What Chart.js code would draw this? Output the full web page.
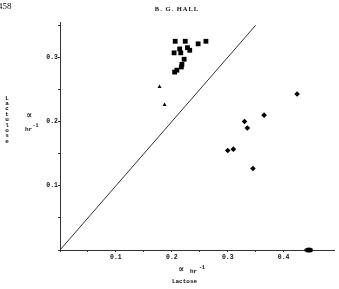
<!DOCTYPE html>
<html>
<head>
<meta charset="utf-8">
<script src="https://cdn.jsdelivr.net/npm/chart.js@4/dist/chart.umd.min.js"></script>
<style>
  html, body { margin: 0; padding: 0; background: #fff; }
  #wrap { width: 339px; height: 289px; position: relative; }
</style>
</head>
<body>
<div id="wrap"><canvas id="chart"></canvas></div>
<script>
// alpha (hr^-1) on lactose (x) vs lactulose (y)
const squareLactose   = [0.206, 0.224, 0.247, 0.261, 0.204, 0.214, 0.216, 0.228, 0.232, 0.222, 0.218, 0.217, 0.209, 0.205];
const squareLactulose = [0.325, 0.325, 0.321, 0.325, 0.307, 0.313, 0.307, 0.315, 0.311, 0.297, 0.289, 0.285, 0.280, 0.277];

const triangleLactose   = [0.178, 0.187];
const triangleLactulose = [0.254, 0.226];

const diamondLactose   = [0.330, 0.335, 0.365, 0.300, 0.310, 0.345, 0.424];
const diamondLactulose = [0.200, 0.190, 0.210, 0.155, 0.157, 0.127, 0.243];

const ovalLactose   = [0.445];
const ovalLactulose = [0.0];

const lineLactose   = [0, 0.35];
const lineLactulose = [0, 0.35];

const xMax = 0.49;
const yMax = 0.355;
const tickStep = 0.05;

const pts = (xs, ys) => xs.map((x, i) => ({ x: x, y: ys[i] }));

// flat oval marker for the point sitting on the axis
const ovalMark = document.createElement('canvas');
ovalMark.width = 9;
ovalMark.height = 6;
(function () {
    const c = ovalMark.getContext('2d');
    c.fillStyle = '#000';
    c.beginPath();
    c.ellipse(4.5, 3, 4.2, 2.6, 0, 0, Math.PI * 2);
    c.fill();
})();

const tickLabel = v => {
    const n = Math.round(v / tickStep);
    if (n === 0 || n % 2 !== 0) return '';
    return (n * tickStep).toFixed(1);
};

const textFont = 'bold 6px "Liberation Mono"';

const pageText = {
    id: 'pageText',
    afterDraw(chart) {
        const ctx = chart.ctx;
        ctx.save();
        ctx.fillStyle = '#111';
        ctx.textBaseline = 'middle';

        ctx.font = '9px "Liberation Serif"';
        ctx.textAlign = 'left';
        ctx.fillText('458', -2, 7);

        ctx.font = 'bold 6.5px "Liberation Serif"';
        ctx.letterSpacing = '1px';
        ctx.textAlign = 'center';
        ctx.fillText('B. G. HALL', 177, 9);
        ctx.letterSpacing = '0px';

        // stacked y title
        ctx.font = textFont;
        const word = 'Lactulose';
        for (let i = 0; i < word.length; i++) {
            ctx.fillText(word[i], 7, 98 + i * 5.4);
        }
        ctx.font = 'bold 9px "DejaVu Serif"';
        ctx.fillText('∝', 29, 116);
        ctx.font = textFont;
        ctx.textAlign = 'left';
        ctx.fillText('hr', 25, 129);
        ctx.font = 'bold 5px "Liberation Mono"';
        ctx.fillText('-1', 32.5, 125.5);

        // x title
        ctx.font = 'bold 9px "DejaVu Serif"';
        ctx.textAlign = 'center';
        ctx.fillText('∝', 181, 270);
        ctx.font = textFont;
        ctx.textAlign = 'left';
        ctx.fillText('hr', 190, 271);
        ctx.font = 'bold 5px "Liberation Mono"';
        ctx.fillText('-1', 199, 267.5);

        ctx.font = textFont;
        ctx.textAlign = 'center';
        ctx.fillText('Lactose', 184.5, 281);
        ctx.restore();
    }
};

new Chart(document.getElementById('chart'), {
    type: 'scatter',
    data: {
        datasets: [
            {
                label: 'y = x',
                type: 'line',
                data: pts(lineLactose, lineLactulose),
                borderColor: '#333',
                borderWidth: 1,
                pointRadius: 0,
                fill: false
            },
            {
                label: 'squares',
                data: pts(squareLactose, squareLactulose),
                pointStyle: 'rect',
                pointRadius: 3.4,
                backgroundColor: '#000',
                borderColor: '#000',
                borderWidth: 0
            },
            {
                label: 'triangles',
                data: pts(triangleLactose, triangleLactulose),
                pointStyle: 'triangle',
                pointRadius: 2.3,
                backgroundColor: '#000',
                borderColor: '#000',
                borderWidth: 0
            },
            {
                label: 'diamonds',
                data: pts(diamondLactose, diamondLactulose),
                pointStyle: 'rectRot',
                pointRadius: 2.8,
                backgroundColor: '#000',
                borderColor: '#000',
                borderWidth: 0
            },
            {
                label: 'oval',
                data: pts(ovalLactose, ovalLactulose),
                pointStyle: ovalMark,
                backgroundColor: '#000',
                borderColor: '#000'
            }
        ]
    },
    options: {
        responsive: true,
        maintainAspectRatio: false,
        animation: false,
        clip: false,
        layout: { padding: { top: 22, right: 0, left: 0, bottom: 0 } },
        plugins: {
            legend: { display: false },
            tooltip: { enabled: false }
        },
        scales: {
            x: {
                type: 'linear',
                min: 0,
                max: xMax,
                afterFit: s => { s.height = 39; },
                border: { display: true, color: '#333', width: 1 },
                grid: { display: true, drawOnChartArea: false, drawTicks: true, tickLength: 2, color: '#333' },
                ticks: {
                    stepSize: tickStep,
                    includeBounds: false,
                    autoSkip: false,
                    maxRotation: 0,
                    padding: 1,
                    color: '#111',
                    font: { family: 'Liberation Mono', size: 6.5, weight: 'bold' },
                    callback: tickLabel
                }
            },
            y: {
                type: 'linear',
                min: 0,
                max: yMax,
                afterFit: s => { s.width = 60; },
                border: { display: true, color: '#333', width: 1 },
                grid: { display: true, drawOnChartArea: false, drawTicks: true, tickLength: 2, color: '#333' },
                ticks: {
                    stepSize: tickStep,
                    includeBounds: false,
                    autoSkip: false,
                    padding: 0,
                    color: '#111',
                    font: { family: 'Liberation Mono', size: 6.5, weight: 'bold' },
                    callback: tickLabel
                }
            }
        }
    },
    plugins: [pageText]
});
</script>
</body>
</html>
